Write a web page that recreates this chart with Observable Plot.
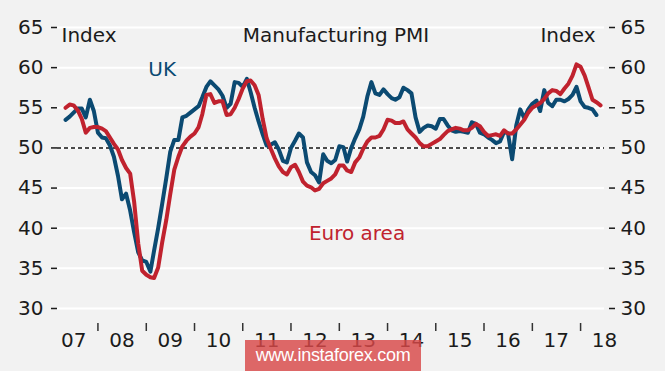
<!DOCTYPE html>
<html>
<head>
<meta charset="utf-8">
<script src="https://cdn.jsdelivr.net/npm/d3@7"></script>
<script src="https://cdn.jsdelivr.net/npm/@observablehq/plot@0.6"></script>
<style>
  html, body { margin: 0; padding: 0; background: #f2f2f2; }
  #wrap { position: relative; width: 665px; height: 371px; overflow: hidden; }
  #wm { position: absolute; left: 245px; top: 340px; width: 176px; height: 31px;
        background: rgba(216, 72, 72, 0.82); color: #fff; font-family: "Liberation Sans", Arial, sans-serif;
        font-size: 18px; line-height: 31px; text-align: center; letter-spacing: -0.3px; }
</style>
</head>
<body>
<div id="wrap"><div id="chart"></div><div id="wm">www.instaforex.com</div></div>
<script>
// Monthly series, starting May 2007
const startYear = 2007, startMonth = 4; // May (0-based)
const ukValues = [
  53.5, 53.9, 54.4, 54.9, 54.9, 53.8, 56.0, 54.6,            // 2007 May-Dec
  51.9, 51.3, 51.2, 50.3, 48.9, 46.5, 43.6, 44.3, 42.2, 39.5, 37.0, 36.0, // 2008
  35.8, 34.6, 37.2, 40.0, 43.0, 46.2, 49.5, 51.0, 51.0, 53.8, 54.0, 54.4, // 2009
  54.8, 55.2, 56.3, 57.6, 58.3, 57.8, 57.3, 56.5, 55.0, 55.5, 58.2, 58.1, // 2010
  57.6, 58.6, 57.0, 55.0, 53.3, 51.7, 50.3, 50.4, 50.7, 49.8, 48.4, 48.2, // 2011
  50.0, 50.9, 51.8, 51.3, 48.2, 47.0, 46.6, 45.7, 49.2, 48.4, 48.1, 48.5, // 2012
  50.2, 50.1, 48.3, 50.0, 51.2, 52.3, 53.9, 56.4, 58.2, 56.8, 56.6, 57.3, // 2013
  56.7, 56.2, 56.0, 56.3, 57.5, 57.2, 56.8, 53.8, 52.0, 52.5, 52.8, 52.7, // 2014
  52.4, 53.6, 53.6, 52.8, 52.2, 52.0, 52.1, 52.0, 51.9, 53.2, 53.0, 51.9, // 2015
  51.7, 51.3, 51.0, 50.6, 50.8, 52.0, 51.8, 48.6, 52.8, 54.8, 53.7, 54.8, // 2016
  55.5, 55.9, 54.6, 57.2, 55.6, 55.2, 56.0, 56.0, 55.8, 56.1, 56.6, 57.6, // 2017
  55.8, 55.1, 55.0, 54.8, 54.1                                            // 2018
];
const euroValues = [
  55.0, 55.4, 55.3, 54.7, 53.6, 51.9, 52.5, 52.6,            // 2007 May-Dec
  52.6, 52.4, 52.1, 51.3, 50.5, 49.8, 48.5, 47.5, 46.8, 43.3, 38.1, 34.7, // 2008
  34.2, 33.9, 33.8, 35.1, 38.2, 41.0, 44.2, 47.3, 48.9, 50.2, 50.9, 51.4, // 2009
  51.8, 52.6, 54.2, 56.6, 56.7, 55.6, 55.8, 55.8, 54.1, 54.2, 55.0, 56.1, // 2010
  57.4, 58.3, 58.4, 57.8, 56.6, 53.6, 51.2, 49.9, 48.7, 47.7, 47.0, 46.7, // 2011
  47.6, 47.9, 47.0, 45.8, 45.3, 45.1, 44.7, 44.9, 45.6, 45.9, 46.2, 46.7, // 2012
  47.8, 47.8, 47.2, 47.0, 48.2, 48.8, 49.9, 50.8, 51.3, 51.3, 51.5, 52.3, // 2013
  53.5, 53.4, 53.1, 53.1, 53.3, 52.3, 51.8, 51.3, 50.6, 50.2, 50.2, 50.5, // 2014
  50.8, 51.1, 51.6, 52.1, 52.3, 52.5, 52.4, 52.2, 52.2, 52.5, 53.0, 52.7, // 2015
  52.0, 51.5, 51.6, 51.7, 51.5, 52.2, 51.8, 51.8, 52.3, 52.9, 53.5, 54.4, // 2016
  55.0, 55.3, 55.6, 56.1, 56.8, 57.2, 57.1, 56.7, 57.4, 58.0, 59.0, 60.4, // 2017
  60.1, 59.0, 57.6, 56.0, 55.7, 55.3                                      // 2018
];
const yearLabels = ["07","08","09","10","11","12","13","14","15","16","17","18"];
const yTicks = [30, 35, 40, 45, 50, 55, 60, 65];
const seriesNames = ["UK", "Euro area"];
const titleText = "Manufacturing PMI";
const unitText = "Index";

const ukColor = "#0b4a72";
const euroColor = "#c0222e";
const textColor = "#1b1b1b";

const toRows = (vals) => vals.map((v, i) => ({date: new Date(Date.UTC(startYear, startMonth + i, 1)), value: v}));
const ukData = toRows(ukValues);
const euroData = toRows(euroValues);
const janTicks = yearLabels.slice(1).map(s => new Date(Date.UTC(2000 + (+s), 0, 1)));
const labelRows = yearLabels.map(s => ({date: new Date(Date.UTC(2000 + (+s), 6, 1)), text: s}));

const chart = Plot.plot({
  width: 665,
  height: 371,
  marginLeft: 57,
  marginRight: 61,
  marginTop: 27,
  marginBottom: 63,
  style: {background: "#f2f2f2", fontFamily: "'DejaVu Sans', sans-serif", fontSize: "20px", color: textColor},
  x: {type: "utc", domain: [new Date(Date.UTC(2007, 2, 1)), new Date(Date.UTC(2018, 6, 1))]},
  y: {domain: [30, 65]},
  marks: [
    Plot.gridY(yTicks, {stroke: "#ffffff", strokeOpacity: 1, strokeWidth: 2}),
    Plot.ruleY([50], {stroke: "#111", strokeWidth: 1.5, strokeDasharray: "4,3"}),
    Plot.axisY(yTicks, {anchor: "left", tickSize: 6, tickPadding: 8, label: null, fontSize: 20, strokeWidth: 1.5}),
    Plot.axisY(yTicks, {anchor: "right", tickSize: 6, tickPadding: 6, label: null, fontSize: 20, strokeWidth: 1.5, dx: 4}),
    Plot.axisX(janTicks, {tickSize: 8, tickFormat: () => "", label: null, dy: 15, strokeWidth: 1.5, stroke: "#333"}),
    Plot.text(labelRows, {x: "date", text: "text", frameAnchor: "bottom", dy: 38, fontSize: 20, fill: textColor}),
    Plot.line(ukData, {x: "date", y: "value", stroke: ukColor, strokeWidth: 4}),
    Plot.line(euroData, {x: "date", y: "value", stroke: euroColor, strokeWidth: 4}),
    Plot.text([seriesNames[0]], {x: new Date(Date.UTC(2009, 4, 1)), y: 59.7, text: d => d, fill: ukColor, fontSize: 20}),
    Plot.text([seriesNames[1]], {x: new Date(Date.UTC(2013, 4, 15)), y: 39.3, text: d => d, fill: euroColor, fontSize: 20}),
    Plot.text([unitText], {frameAnchor: "top-left", dx: 4, text: d => d, textAnchor: "start", fontSize: 20, fill: textColor}),
    Plot.text([unitText], {frameAnchor: "top-right", dx: -9, text: d => d, textAnchor: "end", fontSize: 20, fill: textColor}),
    Plot.text([titleText], {frameAnchor: "top", dx: 5, text: d => d, fontSize: 20, fill: textColor})
  ]
});
document.getElementById("chart").appendChild(chart);
</script>
</body>
</html>
